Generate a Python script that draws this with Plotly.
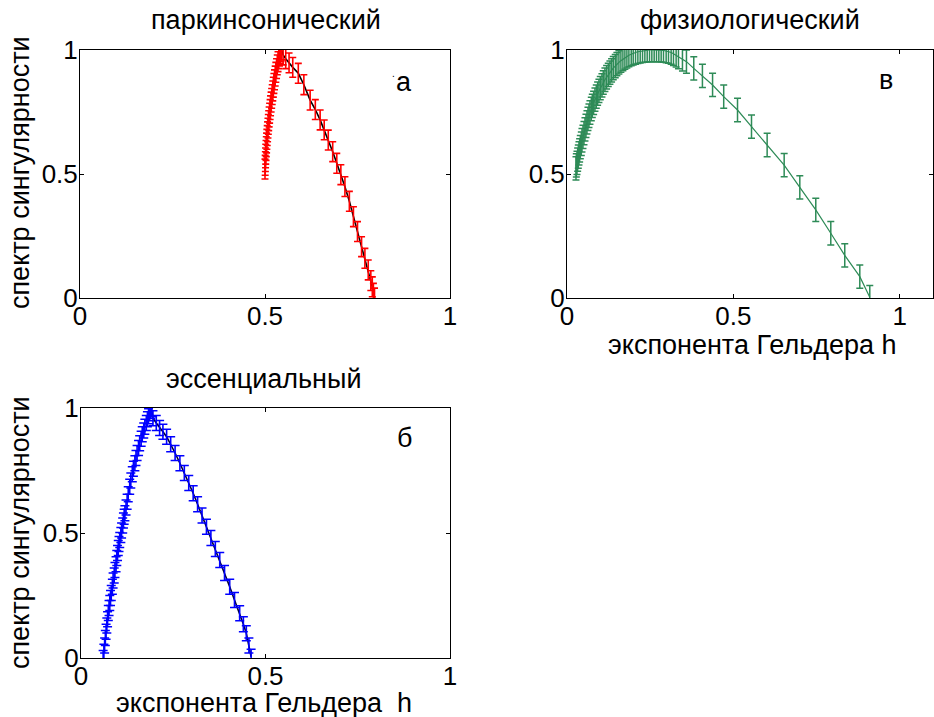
import plotly.graph_objects as go

W, H = 934, 717

# ---------- data ----------
# паркинсонический (red): spectrum h -> f(h)
park_h = [0.5000, 0.5005, 0.5010, 0.5015, 0.5020, 0.5028, 0.5035, 0.5043, 0.5050, 0.5060,
          0.5070, 0.5080, 0.5090, 0.5100, 0.5112, 0.5125, 0.5138, 0.5150, 0.5165, 0.5180,
          0.5195, 0.5210, 0.5225, 0.5240, 0.5257, 0.5275, 0.5293, 0.5312, 0.5332, 0.5352,
          0.5372, 0.5392, 0.5412, 0.5432, 0.5450,
          0.549, 0.556, 0.565, 0.575, 0.590, 0.605, 0.622, 0.636, 0.649, 0.660,
          0.671, 0.683, 0.694, 0.705, 0.716, 0.728, 0.739, 0.750, 0.761, 0.770,
          0.779, 0.786, 0.790, 0.793, 0.796]
park_f = [0.520, 0.535, 0.550, 0.565, 0.580, 0.595, 0.610, 0.625, 0.640, 0.655,
          0.670, 0.685, 0.700, 0.715, 0.730, 0.745, 0.760, 0.775, 0.790, 0.805,
          0.820, 0.835, 0.850, 0.865, 0.880, 0.895, 0.910, 0.925, 0.940, 0.953,
          0.965, 0.976, 0.986, 0.994, 1.000,
          0.980, 0.965, 0.948, 0.930, 0.906, 0.860, 0.798, 0.760, 0.718, 0.678,
          0.637, 0.590, 0.543, 0.497, 0.449, 0.390, 0.328, 0.268, 0.207, 0.160,
          0.113, 0.070, 0.045, 0.019, 0.000]
park_err = 0.040
park_peak_index = 34

# физиологический (green)
phys_h = [0.027, 0.028, 0.030, 0.032, 0.034, 0.036, 0.038, 0.040, 0.043, 0.045,
          0.048, 0.051, 0.054, 0.057, 0.060, 0.063, 0.066, 0.069, 0.073, 0.076,
          0.080, 0.084, 0.088, 0.092, 0.096, 0.100, 0.105, 0.109, 0.114, 0.119,
          0.124, 0.129, 0.134, 0.139, 0.145, 0.150, 0.156, 0.162, 0.168, 0.174,
          0.180, 0.186, 0.193, 0.199, 0.206, 0.213, 0.220, 0.227, 0.234, 0.241,
          0.248, 0.255, 0.262, 0.269, 0.276, 0.283, 0.290, 0.298, 0.305, 0.313,
          0.320, 0.328, 0.335, 0.347, 0.359, 0.381, 0.407, 0.4375, 0.471, 0.5125,
          0.5545, 0.6015, 0.6527, 0.6997, 0.7477, 0.7928, 0.8348, 0.880, 0.910]
phys_f = [0.523, 0.535, 0.545, 0.558, 0.570, 0.583, 0.595, 0.608, 0.622, 0.636,
          0.650, 0.665, 0.680, 0.694, 0.708, 0.722, 0.735, 0.748, 0.762, 0.775,
          0.787, 0.800, 0.812, 0.824, 0.835, 0.846, 0.857, 0.869, 0.880, 0.890,
          0.900, 0.909, 0.918, 0.927, 0.935, 0.943, 0.950, 0.957, 0.963, 0.969,
          0.974, 0.979, 0.983, 0.987, 0.990, 0.993, 0.995, 0.997, 0.998, 0.999,
          1.000, 1.000, 1.000, 1.000, 1.000, 0.999, 0.998, 0.996, 0.994, 0.990,
          0.985, 0.978, 0.971, 0.962, 0.953, 0.926, 0.896, 0.859, 0.812, 0.758,
          0.691, 0.617, 0.536, 0.446, 0.355, 0.261, 0.172, 0.086, 0.003]
phys_err = 0.047

# эссенциальный (blue)
ess_h = [0.060, 0.062, 0.064, 0.066, 0.068, 0.070, 0.072, 0.074, 0.076, 0.078,
         0.080, 0.082, 0.085, 0.087, 0.090, 0.092, 0.095, 0.097, 0.099, 0.101,
         0.103, 0.105, 0.108, 0.110, 0.113, 0.115, 0.117, 0.119, 0.122, 0.125,
         0.128, 0.132, 0.135, 0.139, 0.142, 0.146, 0.149, 0.152, 0.156, 0.159,
         0.163, 0.166, 0.170, 0.173, 0.177, 0.180, 0.183, 0.186, 0.189, 0.191,
         0.195, 0.204, 0.213, 0.222, 0.232, 0.243, 0.255, 0.268, 0.280, 0.292,
         0.304, 0.316, 0.328, 0.340, 0.352, 0.364, 0.376, 0.389, 0.403, 0.416,
         0.430, 0.440, 0.448, 0.455, 0.461]
ess_f = [0.000, 0.025, 0.050, 0.080, 0.105, 0.130, 0.155, 0.180, 0.200, 0.220,
         0.240, 0.260, 0.285, 0.310, 0.330, 0.352, 0.375, 0.400, 0.420, 0.440,
         0.456, 0.472, 0.492, 0.510, 0.530, 0.550, 0.565, 0.579, 0.602, 0.625,
         0.655, 0.685, 0.710, 0.735, 0.757, 0.779, 0.800, 0.820, 0.840, 0.859,
         0.877, 0.895, 0.910, 0.925, 0.940, 0.955, 0.967, 0.979, 0.988, 0.995,
         0.959, 0.940, 0.920, 0.905, 0.885, 0.855, 0.820, 0.779, 0.740, 0.700,
         0.659, 0.615, 0.570, 0.525, 0.480, 0.436, 0.392, 0.340, 0.285, 0.232,
         0.179, 0.135, 0.099, 0.050, 0.005]
ess_err = 0.030
ess_peak_index = 49

ticks_vals = [0, 0.5, 1]
ticks_text = ["0", "0.5", "1"]

RED = "#ff0000"
GREEN = "#2e8b57"
BLUE = "#0000ff"
FONT = "Liberation Sans, Arial, sans-serif"
FS_TICK = 26
FS_TEXT = 27


def px(x):
    return x / W


def py(y):
    return 1 - y / H


fig = go.Figure()

# --- subplot 1: паркинсонический ---
fig.add_trace(go.Scatter(x=park_h[park_peak_index:], y=park_f[park_peak_index:], mode="lines",
                         line=dict(color="#000000", width=1.6), xaxis="x", yaxis="y",
                         showlegend=False))
fig.add_trace(go.Scatter(x=park_h, y=park_f, mode="markers", marker=dict(size=0.1, color=RED),
                         error_y=dict(type="constant", value=park_err, color=RED, thickness=1.6, width=3.5),
                         xaxis="x", yaxis="y", showlegend=False))

# --- subplot 2: физиологический ---
fig.add_trace(go.Scatter(x=phys_h, y=phys_f, mode="lines",
                         line=dict(color=GREEN, width=1.2),
                         error_y=dict(type="constant", value=phys_err, color=GREEN, thickness=1.5, width=3.5),
                         xaxis="x2", yaxis="y2", showlegend=False))

# --- subplot 3: эссенциальный ---
fig.add_trace(go.Scatter(x=ess_h[ess_peak_index:], y=ess_f[ess_peak_index:], mode="lines",
                         line=dict(color="#000030", width=1.6), xaxis="x3", yaxis="y3",
                         showlegend=False))
fig.add_trace(go.Scatter(x=ess_h, y=ess_f, mode="markers", marker=dict(size=0.1, color=BLUE),
                         error_y=dict(type="constant", value=ess_err, color=BLUE, thickness=1.6, width=4.5),
                         xaxis="x3", yaxis="y3", showlegend=False))

axis_common = dict(showline=True, linecolor="black", linewidth=1, mirror="allticks",
                   ticks="inside", ticklen=4, tickcolor="black", showgrid=False,
                   zeroline=False, tickfont=dict(family=FONT, size=FS_TICK, color="black"),
                   tickvals=ticks_vals, ticktext=ticks_text)
x_common = dict(axis_common, ticklabelstandoff=-5)
y_common = dict(axis_common, ticklabelstandoff=-4)

fig.update_layout(
    width=W, height=H, margin=dict(l=0, r=0, t=0, b=0),
    paper_bgcolor="white", plot_bgcolor="white", template="none",
    xaxis=dict(domain=[px(80), px(450)], range=[0, 1], anchor="y", **x_common),
    yaxis=dict(domain=[py(298), py(50)], range=[0, 1], anchor="x", **y_common),
    xaxis2=dict(domain=[px(567), px(933)], range=[0, 1.1], anchor="y2", **x_common),
    yaxis2=dict(domain=[py(298), py(50)], range=[0, 1], anchor="x2", **y_common),
    xaxis3=dict(domain=[px(81), px(450)], range=[0, 1], anchor="y3", **x_common),
    yaxis3=dict(domain=[py(658), py(408)], range=[0, 1], anchor="x3", **y_common),
)

texts = [
    ("паркинсонический", 266, 20, 0),
    ("физиологический", 750, 20, 0),
    ("эссенциальный", 264, 379, 0),
    ("спектр сингулярности", 20, 173, -90),
    ("спектр сингулярности", 20, 533, -90),
    ("экспонента Гельдера h", 752, 345, 0),
    ("экспонента Гельдера\u00a0\u00a0h", 264, 703, 0),
    ("а", 404, 82, 0),
    ("в", 886, 80, 0),
    ("б", 404, 438, 0),
]
for t, x, y, ang in texts:
    fig.add_annotation(text=t, x=px(x), y=py(y), xref="paper", yref="paper",
                       showarrow=False, textangle=ang, xanchor="center", yanchor="middle",
                       font=dict(family=FONT, size=FS_TEXT, color="black"))
fig.add_annotation(text=".", x=px(393), y=py(66), xref="paper", yref="paper", showarrow=False,
                   font=dict(family=FONT, size=10, color="black"))

fig.write_html("out.html")
